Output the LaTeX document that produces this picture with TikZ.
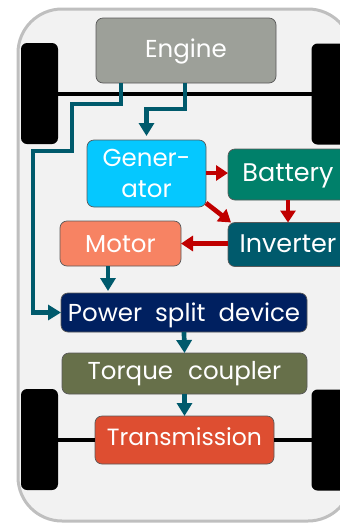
\documentclass[tikz,border=0pt]{standalone}
\usepackage{fontspec}
\setmainfont{Poppins}
\usepackage{tikz}
\usetikzlibrary{arrows.meta,positioning}

\definecolor{bodyfill}{HTML}{F2F2F2}
\definecolor{bodyline}{HTML}{BFBFBF}
\definecolor{shaftcol}{HTML}{005A6C}
\definecolor{powercol}{HTML}{C00000}

\begin{document}
\begin{tikzpicture}[x=1pt, y=-1pt,
  part/.style={draw=black!65, line width=0.7pt, rounded corners=7pt, align=center, text=white,
               font=\fontsize{24.5}{32}\selectfont, inner sep=0pt, outer sep=0pt},
  label height/.style={text height=#1, text depth=5pt},
  label size/.style={font=\fontsize{#1}{32}\selectfont},
  wide words/.style={execute at begin node={\spaceskip=#1\relax}},
  wheel/.style={fill=black, rounded corners=6pt, minimum width=37pt, inner sep=0pt, minimum height=101pt, outer sep=0pt},
  axle/.style={black, line width=4.5pt},
  shaft/.style={shaftcol, line width=4.7pt, -{Triangle[length=13pt, width=15pt]}},
  power/.style={powercol, line width=4.7pt, -{Triangle[length=12pt, width=15pt]}}]
  \useasboundingbox (0,0) rectangle (340,523);
  \node[draw=bodyline, fill=bodyfill, line width=3pt, rounded corners=44pt, minimum width=334pt, minimum height=512pt, inner sep=0pt] (chassis) at (185,265) {};
  \node[wheel] (wheelA) at (39.5,93.5)  {};
  \node[wheel] (wheelB) at (330,94)     {};
  \node[wheel] (wheelC) at (39.5,439.5) {};
  \node[wheel] (wheelD) at (330,440)    {};
  \node[part, label height=18pt, fill={rgb,255:red,157;green,160;blue,153}, minimum width=180pt, minimum height=65pt] (engine) at (186,50.5) {Engine};
  \node[part, fill={rgb,255:red,5;green,200;blue,255}, minimum width=119pt, minimum height=67pt] (gen) at (146.5,173.5) {Gener-\\[-1pt]ator};
  \node[part, label height=18pt, label size=25.5, fill={rgb,255:red,0;green,128;blue,106}, minimum width=120pt, minimum height=51pt] (batt) at (288,174.5) {Battery};
  \node[part, label height=20pt, label size=25.5, fill=shaftcol, minimum width=120pt, minimum height=44pt] (inv) at (288,244.5) {Inverter};
  \node[part, label height=22pt, fill={rgb,255:red,247;green,131;blue,99}, minimum width=121pt, minimum height=45pt] (motor) at (120.5,243.5) {Motor};
  \node[part, label height=23pt, wide words=13pt, fill={rgb,255:red,0;green,32;blue,96}, minimum width=246pt, minimum height=39pt] (split) at (184,312.5) {Power split device};
  \node[part, label height=16pt, wide words=15pt, fill={rgb,255:red,103;green,112;blue,74}, minimum width=245pt, minimum height=41pt] (coupler) at (184.5,373.5) {Torque coupler};
  \node[part, label height=15pt, label size=23.5, fill={rgb,255:red,222;green,78;blue,49}, minimum width=179pt, minimum height=48pt] (trans) at (184.5,440) {Transmission};
  % axles
  \draw[axle] (wheelA.east |- 0,94) -- (wheelB.west |- 0,94);
  \draw[axle] (wheelC.east |- trans.west) -- (trans.west);
  \draw[axle] (trans.east) -- (wheelD.west |- trans.east);
  % mechanical path
  \draw[shaft] ([xshift=-65pt]engine.south) -- ++(0,21) -| (72,151) -| (33,312.5) -- (split.west);
  \draw[shaft, shorten >=4pt] ([xshift=-1pt]engine.south) -- ++(0,26) -| (gen.north);
  \draw[shaft, shorten >=2pt] ([xshift=-12.5pt]motor.south) -- ([xshift=-76pt]split.north);
  \draw[shaft] (split.south) -- (coupler.north);
  \draw[shaft] (coupler.south) -- (trans.north);
  % electrical path
  \draw[power] (gen.east |- 0,173) -- (batt.west |- 0,173);
  \draw[power] (gen.south east) ++(0,-4) -- ([xshift=3pt]inv.north west);
  \draw[power] (batt.south) -- (inv.north);
  \draw[power] (inv.west |- motor.east) -- (motor.east);
\end{tikzpicture}
\end{document}
